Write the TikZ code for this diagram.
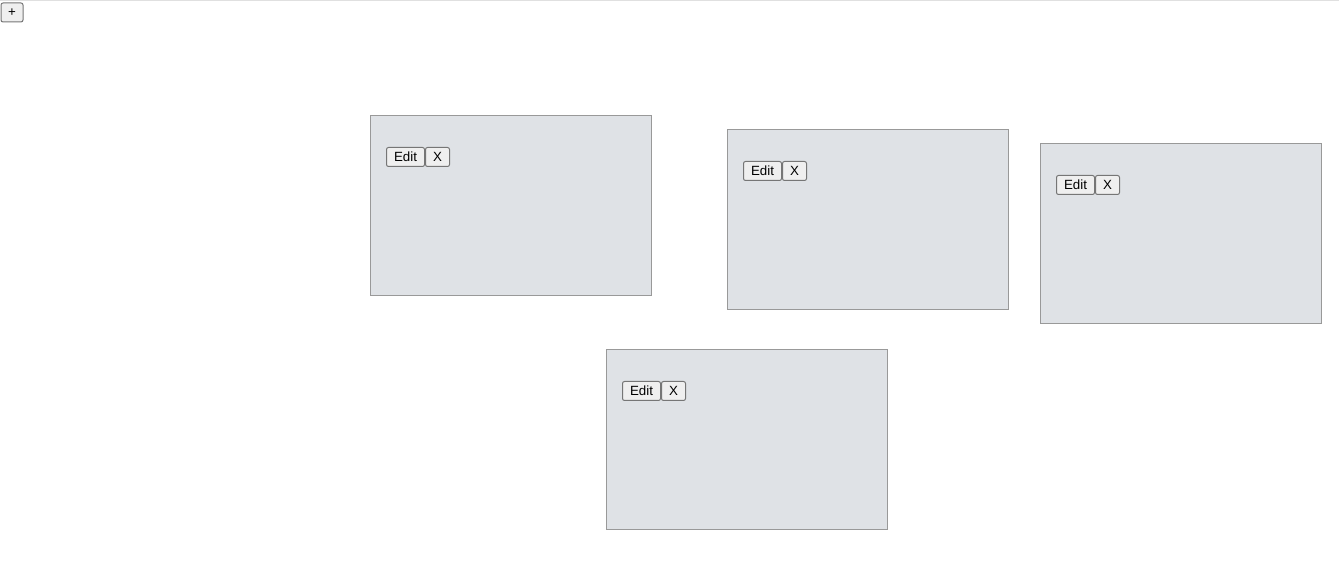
\documentclass[tikz,border=0pt]{standalone}
\usepackage{fontspec}
\setmainfont{Liberation Sans}
\usetikzlibrary{positioning}
\definecolor{cardfill}{HTML}{DFE2E6}
\definecolor{cardline}{HTML}{999999}
\definecolor{btnfill}{HTML}{EFEFEF}
\definecolor{btnline}{HTML}{767676}
\definecolor{topline}{HTML}{E0E0E0}

\tikzset{
    card/.style={draw=cardline, fill=cardfill, line width=0.75pt, inner sep=0pt,
        minimum width=210.75pt, minimum height=135pt, anchor=north west},
    btn/.style={draw=btnline, fill=btnfill, line width=0.75pt, rounded corners=1.5pt,
        inner sep=0pt, minimum height=14.25pt, font=\fontsize{10pt}{12pt}\selectfont},
    editbtn/.style={btn, minimum width=28.5pt},
    closebtn/.style={btn, minimum width=18pt}
}

\begin{document}
\begin{tikzpicture}[x=0.75pt, y=-0.75pt, node distance=0pt]
    \useasboundingbox (0,0) rectangle (1339,584);
    \draw[topline, line width=0.75pt] (0,0.5) -- (1339,0.5);

    % Add button
    \node[btn, minimum width=16.5pt, anchor=north west] (add) at (0.5,2.5) {+};

    % Define cards
    \node[card] (c1) at (370,115) {};
    \node[card] (c2) at (727,129) {};
    \node[card] (c3) at (1040,143) {};
    \node[card] (c4) at (606,349) {};

    % Define buttons
    \node[editbtn, below right=24pt and 12pt of c1.north west] (e1) {Edit};
        \node[closebtn, right=of e1] (x1) {X};
    \node[editbtn, below right=24pt and 12pt of c2.north west] (e2) {Edit};
        \node[closebtn, right=of e2] (x2) {X};
    \node[editbtn, below right=24pt and 12pt of c3.north west] (e3) {Edit};
        \node[closebtn, right=of e3] (x3) {X};
    \node[editbtn, below right=24pt and 12pt of c4.north west] (e4) {Edit};
        \node[closebtn, right=of e4] (x4) {X};
\end{tikzpicture}
\end{document}
